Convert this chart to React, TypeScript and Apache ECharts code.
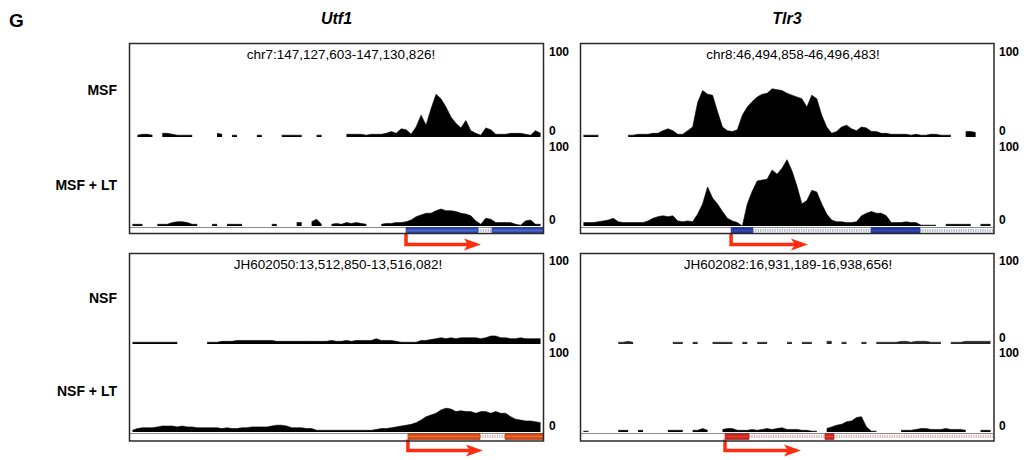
import React, { useEffect, useRef } from 'react';
import * as echarts from 'echarts';

// ---------- texts ----------
const panelLetter = 'G';
const geneTitles = ['Utf1', 'Tlr3'];
const rowLabels = ['MSF', 'MSF + LT', 'NSF', 'NSF + LT'];
const regionLabels = [
  'chr7:147,127,603-147,130,826!',
  'chr8:46,494,858-46,496,483!',
  'JH602050:13,512,850-13,516,082!',
  'JH602082:16,931,189-16,938,656!',
];
const yTickLabels = ['0', '100'];

// ---------- genomic windows ----------
const regionStarts = [147127603, 46494858, 13512850, 16931189];
const regionEnds = [147130826, 46496483, 13516082, 16938656];

// ---------- coverage (percent of track scale, 5-px bins, null = no reads) ----------
const utf1Msf = [null, 2, 3, 3, 2, null, 4, 4, 3, 2, 2, 2, 2, null, null, null, null, 4, 3, null, 2, 2, null, null, null, 2, 2, null, null, null, 2, 2, 2, 2, 2, null, null, 2, 2, null, null, null, null, 3, 3, 3, 3, 2, 3, 3, 3, 4, 6, 4, 9, 8, 3, 11, 24, 13, 31, 47, 42, 33, 22, 15, 10, 18, 7, 4, 2, 10, 8, 3, 3, 3, 4, 4, 4, 3, 2, 7, 4];
const utf1MsfLt = [2, 2, 2, null, null, 2, 2, 2, 4, 5, 5, 4, 2, 2, null, null, 2, 2, null, 2, 2, 2, 2, null, null, null, null, null, 2, 2, null, null, null, 4, 4, null, 5, 8, 2, null, 2, 3, 2, 4, 3, 4, 3, 2, null, null, 2, 3, 3, 4, 4, 5, 7, 11, 13, 15, 15, 18, 20, 18, 18, 17, 15, 14, 12, 6, 2, 9, 8, 4, 4, 4, 4, 2, 1, 6, 7, 2, 2];
const tlr3Msf = [2, 2, 2, 2, null, null, null, null, null, 2, 2, 3, 3, 3, 4, 4, 7, 9, 7, 3, 3, 7, 11, 38, 51, 47, 46, 28, 11, 7, 6, 8, 24, 33, 39, 44, 47, 48, 53, 52, 51, 48, 46, 44, 42, 33, 46, 42, 24, 11, 4, 6, 11, 13, 9, 7, 11, 10, 6, 6, 4, 4, 3, 3, 3, 3, 2, 3, 2, 2, 3, 3, 2, 2, 2, null, null, 6, 6, 5, null, null, null];
const tlr3MsfLt = [4, 4, 4, 5, 6, 7, 9, 5, 4, 4, 4, 4, 4, 6, 9, 11, 12, 11, 12, 6, 5, 6, 5, 14, 26, 46, 33, 26, 17, 9, 6, 4, 0, 26, 41, 53, 54, 55, 66, 61, 68, 78, 65, 47, 26, 30, 42, 40, 26, 14, 7, 5, 5, 4, 4, 5, 12, 15, 17, 15, 15, 12, 4, 4, 4, 5, 4, 4, 1, 1, 1, 1, null, 2, 2, 2, 2, 2, 2, null, 2, 2, 2];
const utf1Nsf = [2, 2, 2, 2, 2, 2, 2, 2, 2, 2, null, null, null, null, null, 2, 2, 2, 3, 3, 3, 4, 4, 4, 4, 4, 4, 4, 4, 3, 3, 3, 3, 3, 3, 3, 3, 3, 3, 3, 4, 3, 3, 4, 3, 4, 4, 4, 4, 6, 4, 4, 4, 3, 2, 2, 2, 2, 4, 4, 5, 6, 7, 6, 7, 6, 7, 7, 7, 7, 6, 7, 9, 9, 7, 7, 6, 6, 7, 6, 6, 6, 6];
const utf1NsfLt = [2, 4, 5, 5, 5, 6, 7, 7, 7, 6, 7, 6, 6, 5, 5, 5, 5, 5, 4, 5, 4, 4, 5, 5, 6, 6, 6, 6, 7, 8, 8, 7, 5, 5, 5, 4, 4, 2, 2, 2, 2, 2, 2, 2, 2, 2, 2, 2, 2, 3, 4, 4, 5, 6, 7, 8, 9, 11, 14, 18, 20, 22, 26, 28, 27, 24, 25, 24, 24, 22, 24, 24, 22, 24, 22, 22, 18, 15, 14, 13, 13, 12, 11];
const tlr3Nsf = [null, null, null, null, null, null, null, 2, 2, 3, 2, null, null, null, null, null, null, null, 2, 2, 2, null, 2, 2, null, null, 2, 2, 2, 2, 2, null, 2, 2, null, 2, 2, 2, null, null, null, 2, 2, null, 2, 2, 2, null, null, 3, 3, null, 2, 2, null, null, 2, 2, null, 2, 2, 2, 2, 2, 3, 3, 2, 3, 3, 3, 2, 2, 2, null, 2, 2, 2, 3, 3, 3, 3, 3, 3];
const tlr3NsfLt = [1, 1, null, null, null, null, null, 2, 2, 2, null, 2, 2, null, null, null, null, 2, 2, 2, 2, null, 2, 2, 4, 2, null, null, 3, 4, 4, 2, 2, 2, 3, 2, 3, 4, 3, 4, 5, 3, 3, 3, 2, 2, 1, 1, null, 4, 6, 8, 9, 12, 13, 17, 18, 6, 1, 1, null, null, null, null, 2, 2, 2, 3, 4, 4, 3, 3, 3, 4, 3, 3, 3, 2, null, null, 2, 2, 2];

// ---------- gene models (genomic coordinates) ----------
const utf1MsfExons = [[147129757, 147130319], [147130428, 147130826]];
const utf1MsfIntrons = [[147130319, 147130428]];
const utf1MsfTss = [147129757, 147130342];
const tlr3MsfExons = [[46495450, 46495536], [46496002, 46496195]];
const tlr3MsfIntrons = [[46495536, 46496002], [46496195, 46496483]];
const tlr3MsfTss = [46495450, 46495753];
const utf1NsfExons = [[13515025, 13515589], [13515785, 13516082]];
const utf1NsfIntrons = [[13515589, 13515785]];
const utf1NsfTss = [13515025, 13515612];
const tlr3NsfExons = [[16933799, 16934234], [16935610, 16935774]];
const tlr3NsfIntrons = [[16934234, 16935610], [16935774, 16938656]];
const tlr3NsfTss = [16933799, 16935176];

const FONT = "'Liberation Sans', Arial, Helvetica, sans-serif";

const panelTracks = [
  [utf1Msf, utf1MsfLt],
  [tlr3Msf, tlr3MsfLt],
  [utf1Nsf, utf1NsfLt],
  [tlr3Nsf, tlr3NsfLt],
];
const trackColors = [
  ['#000', '#000'],
  ['#000', '#000'],
  ['#000', '#000'],
  ['#262626', '#000'],
];
const panelGenes = [
  { exons: utf1MsfExons, introns: utf1MsfIntrons, tss: utf1MsfTss },
  { exons: tlr3MsfExons, introns: tlr3MsfIntrons, tss: tlr3MsfTss },
  { exons: utf1NsfExons, introns: utf1NsfIntrons, tss: utf1NsfTss },
  { exons: tlr3NsfExons, introns: tlr3NsfIntrons, tss: tlr3NsfTss },
];
const panelGeneStyle = [
  { edge: '#1d3391', mid: '#4a68d0', intron: '#aab4d4' },
  { edge: '#1a278a', mid: '#3048b4', intron: '#aab4d4' },
  { edge: '#b83410', mid: '#ee6a2a', intron: '#d9b4ae' },
  { edge: '#b01818', mid: '#e43a30', intron: '#d9b4ae' },
];

const cols = [
  { left: 130, width: 413, boxX: 129.5, boxW: 414 },
  { left: 581, width: 412, boxX: 580.5, boxW: 413.5 },
];
const titleCx = [336.5, 787];
const regionCx = [341, 793, 338, 788];
const rows = [
  { boxY: 43.5, boxH: 190, t1: [46, 91], t2: [141, 85], gene: [227, 7], coordY: 55 },
  { boxY: 253.5, boxH: 187.5, t1: [255, 89], t2: [347, 85], gene: [433, 7], coordY: 265 },
];
const ARROW = '#ff2d10';

function buildOption() {
  const grid: any[] = [];
  const xAxis: any[] = [];
  const yAxis: any[] = [];
  const series: any[] = [];
  const graphic: any[] = [];

  for (let r = 0; r < 2; r++) {
    for (let c = 0; c < 2; c++) {
      const p = r * 2 + c;
      const col = cols[c];
      const row = rows[r];
      const trackRects = [row.t1, row.t2];
      trackRects.forEach((tr, k) => {
        const gi = grid.length;
        grid.push({ left: col.left, width: col.width, top: tr[0], height: tr[1], containLabel: false });
        const data = panelTracks[p][k];
        const color = trackColors[p][k];
        xAxis.push({
          type: 'category', gridIndex: gi, data: data.map((_, i) => String(i)), boundaryGap: true,
          axisLine: { show: false }, axisTick: { show: false }, axisLabel: { show: false }, splitLine: { show: false },
        });
        yAxis.push({
          type: 'value', gridIndex: gi, min: 0, max: 100, interval: 100, position: 'right',
          axisLine: { show: false }, axisTick: { show: false }, splitLine: { show: false },
          axisLabel: {
            show: true, margin: 6, color: '#000', fontSize: 12, fontWeight: 'bold', fontFamily: FONT,
            lineHeight: 12, align: 'left',
            formatter: (v: number) => (v === 0 ? yTickLabels[0] + '\n' : '\n' + yTickLabels[1]),
          },
        });
        series.push({
          type: 'line', xAxisIndex: gi, yAxisIndex: gi, data, symbol: 'none', connectNulls: false,
          lineStyle: { color, width: 0.6 }, areaStyle: { color, opacity: 1 },
          silent: true, z: 2,
        });
      });
      // gene track
      const gi = grid.length;
      grid.push({ left: col.left, width: col.width, top: row.gene[0], height: row.gene[1] });
      xAxis.push({
        type: 'value', gridIndex: gi, min: regionStarts[p], max: regionEnds[p], position: 'top',
        axisLine: { show: true, onZero: false, lineStyle: { color: '#8a8a8a', width: 1 } },
        axisTick: { show: false }, axisLabel: { show: false }, splitLine: { show: false },
      });
      yAxis.push({ type: 'value', gridIndex: gi, min: 0, max: 1, show: false, splitLine: { show: false } });
      const g = panelGenes[p];
      const st = panelGeneStyle[p];
      const items: any[] = [];
      g.introns.forEach((iv) => items.push([iv[0], iv[1], 1]));
      g.exons.forEach((ev) => items.push([ev[0], ev[1], 0]));
      items.push([g.tss[0], g.tss[1], 2]);
      const grad = new echarts.graphic.LinearGradient(0, 0, 0, 1, [
        { offset: 0, color: st.edge }, { offset: 0.5, color: st.mid }, { offset: 1, color: st.edge },
      ]);
      series.push({
        type: 'custom', xAxisIndex: gi, yAxisIndex: gi, data: items, clip: false, silent: true, z: 3,
        renderItem: (params: any, api: any) => {
          const s = api.value(0);
          const e = api.value(1);
          const kind = api.value(2);
          const p0 = api.coord([s, 0.5]);
          const p1 = api.coord([e, 0.5]);
          if (kind === 0) {
            return {
              type: 'rect', shape: { x: p0[0], y: p0[1] - 3, width: p1[0] - p0[0], height: 6 },
              style: { fill: grad, stroke: st.edge, lineWidth: 0.6 },
            };
          }
          if (kind === 1) {
            return {
              type: 'line', shape: { x1: p0[0], y1: p0[1], x2: p1[0], y2: p1[1] },
              style: { stroke: st.intron, lineWidth: 3, lineDash: [1.2, 1.2] },
            };
          }
          const yTop = p0[1] + 3;
          const yL = p0[1] + 14;
          return {
            type: 'group',
            children: [
              {
                type: 'polyline',
                shape: { points: [[p0[0], yTop], [p0[0], yL], [p1[0] - 10, yL]] },
                style: { stroke: ARROW, lineWidth: 3.5, fill: null, lineJoin: 'miter' },
              },
              {
                type: 'polygon',
                shape: { points: [[p1[0] - 17, yL - 6], [p1[0], yL], [p1[0] - 17, yL + 6], [p1[0] - 13, yL]] },
                style: { fill: ARROW },
              },
            ],
          };
        },
      });
      // frame
      graphic.push({
        type: 'rect', shape: { x: col.boxX, y: row.boxY, width: col.boxW, height: row.boxH },
        style: { fill: 'none', stroke: '#2a2a2a', lineWidth: 1.5 }, z: 10, silent: true,
      });
      graphic.push({
        type: 'text', x: regionCx[p], y: row.coordY, scaleX: 1.08, z: 10,
        style: { text: regionLabels[p], fill: '#000', fontSize: 12.5, fontFamily: FONT, align: 'center', verticalAlign: 'middle' },
      });
    }
  }

  graphic.push({
    type: 'text', x: 9, y: 20, z: 10,
    style: { text: panelLetter, fill: '#000', fontSize: 19, fontWeight: 'bold', fontFamily: FONT, align: 'left', verticalAlign: 'middle' },
  });
  geneTitles.forEach((t, c) => {
    graphic.push({
      type: 'text', x: titleCx[c], y: 18, z: 10,
      style: { text: t, fill: '#000', fontSize: 16, fontWeight: 'bold', fontStyle: 'italic', fontFamily: FONT, align: 'center', verticalAlign: 'middle' },
    });
  });
  const rowLabelY = [90, 185, 298, 391];
  rowLabels.forEach((t, i) => {
    graphic.push({
      type: 'text', x: 117, y: rowLabelY[i], z: 10,
      style: { text: t, fill: '#000', fontSize: 14, fontWeight: 'bold', fontFamily: FONT, align: 'right', verticalAlign: 'middle' },
    });
  });

  return {
    animation: false,
    backgroundColor: '#fff',
    grid, xAxis, yAxis, series, graphic,
  };
}

export default function App() {
  const ref = useRef<HTMLDivElement>(null);
  useEffect(() => {
    const chart = echarts.init(ref.current!, undefined, { renderer: 'svg' });
    chart.setOption(buildOption() as any);
    return () => chart.dispose();
  }, []);
  return <div ref={ref} style={{ position: 'absolute', left: 0, top: 0, width: 1030, height: 460 }} />;
}
